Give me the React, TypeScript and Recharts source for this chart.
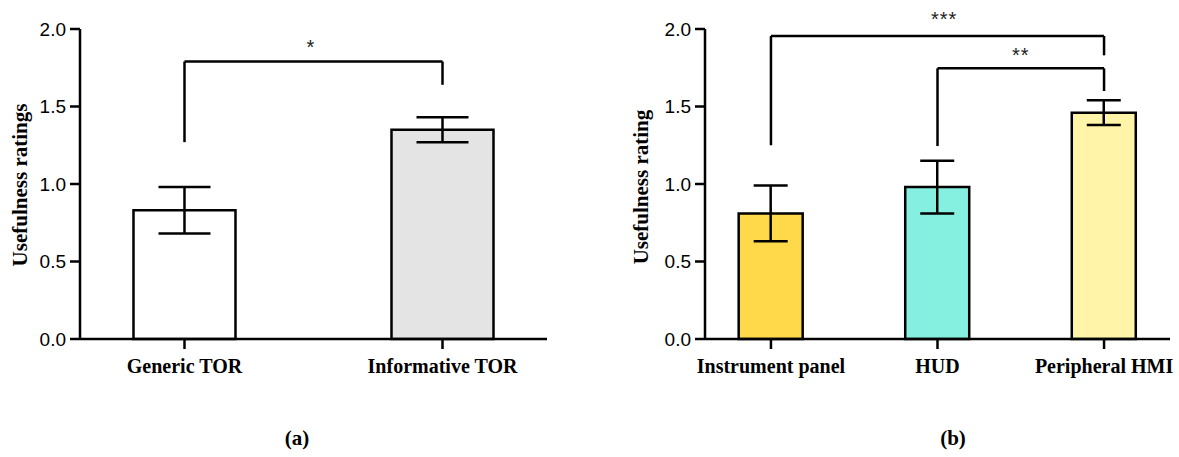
import React from 'react';
import {
  BarChart,
  Bar,
  XAxis,
  YAxis,
  Cell,
  ErrorBar,
  ReferenceLine,
  ReferenceDot,
} from 'recharts';

// ---------- data ----------
const leftCategories = ['Generic TOR', 'Informative TOR'];
const leftMeans = [0.83, 1.35];
const leftErrors = [0.15, 0.08];
const leftColors = ['#FFFFFF', '#E4E4E4'];

const rightCategories = ['Instrument panel', 'HUD', 'Peripheral HMI'];
const rightMeans = [0.81, 0.98, 1.46];
const rightErrors = [0.18, 0.17, 0.08];
const rightColors = ['#FFD94A', '#85F0E0', '#FFF4A8'];

const yTicks = [0, 0.5, 1, 1.5, 2];

// significance brackets: [fromIndex, toIndex, fromBottom, toBottom, top]
const leftBrackets = [[0, 1, 1.27, 1.64, 1.79]];
const leftStars = [{ x: 0.49, y: 1.884, text: '*' }];
const rightBrackets = [
  [0, 2, 1.25, 1.83, 1.955],
  [1, 2, 1.245, 1.6, 1.746],
];
const rightStars = [
  { x: 1.04, y: 2.065, text: '***' },
  { x: 1.5, y: 1.834, text: '**' },
];

const leftData = leftCategories.map((c, i) => ({ idx: i, name: c, value: leftMeans[i], err: leftErrors[i] }));
const rightData = rightCategories.map((c, i) => ({ idx: i, name: c, value: rightMeans[i], err: rightErrors[i] }));

const SW = 2.5;
const serifBold = { fontFamily: 'Liberation Serif', fontWeight: 'bold' as const };

function Panel(props: {
  data: any[];
  categories: string[];
  colors: string[];
  domain: [number, number];
  barSize: number;
  capWidth: number;
  brackets: number[][];
  stars: { x: number; y: number; text: string }[];
  yLabel: string;
  yLabelX: number;
  yLabelY: number;
  width: number;
  margin: any;
}) {
  const { data, categories, colors, domain, barSize, capWidth, brackets, stars, yLabel, yLabelX, yLabelY, width, margin } = props;
  return (
    <BarChart width={width} height={400} data={data} margin={margin}>
      <XAxis
        dataKey="idx"
        type="number"
        domain={domain}
        ticks={categories.map((_, i) => i)}
        interval={0}
        tickFormatter={(v: number) => categories[v] ?? ''}
        height={40}
        axisLine={{ stroke: '#000', strokeWidth: SW }}
        tickLine={{ stroke: '#000', strokeWidth: SW }}
        tickSize={10}
        tickMargin={10}
        tick={{ fill: '#000', fontSize: 20, ...serifBold }}
      />
      <YAxis
        type="number"
        domain={[0, 2]}
        ticks={yTicks}
        tickFormatter={(v: number) => v.toFixed(1)}
        width={60}
        axisLine={{ stroke: '#000', strokeWidth: SW }}
        tickLine={{ stroke: '#000', strokeWidth: SW }}
        tickSize={10}
        tickMargin={4}
        tick={{ fill: '#000', fontSize: 19, fontFamily: 'Liberation Sans' }}
        label={{
          content: () => (
            <text
              x={yLabelX}
              y={yLabelY}
              transform={`rotate(-90 ${yLabelX} ${yLabelY})`}
              textAnchor="middle"
              fill="#000"
              fontSize={21}
              fontFamily="Liberation Serif"
              fontWeight="bold"
            >
              {yLabel}
            </text>
          ),
        }}
      />
      <Bar dataKey="value" barSize={barSize} stroke="#000" strokeWidth={SW} isAnimationActive={false}>
        {data.map((_, i) => (
          <Cell key={i} fill={colors[i]} />
        ))}
        <ErrorBar dataKey="err" width={capWidth} stroke="#000" strokeWidth={SW} direction="y" />
      </Bar>
      {brackets.map((b, i) => [
        <ReferenceLine key={`a${i}`} segment={[{ x: b[0], y: b[2] }, { x: b[0], y: b[4] }]} stroke="#000" strokeWidth={SW} />,
        <ReferenceLine key={`b${i}`} segment={[{ x: b[0], y: b[4] }, { x: b[1], y: b[4] }]} stroke="#000" strokeWidth={SW} />,
        <ReferenceLine key={`c${i}`} segment={[{ x: b[1], y: b[4] }, { x: b[1], y: b[3] }]} stroke="#000" strokeWidth={SW} />,
      ])}
      {stars.map((s, i) => (
        <ReferenceDot
          key={`s${i}`}
          x={s.x}
          y={s.y}
          r={0}
          ifOverflow="visible"
          fill="none"
          stroke="none"
          label={{ value: s.text, position: 'center', fill: '#222', fontSize: 20, fontFamily: 'Liberation Sans', letterSpacing: 1 }}
        />
      ))}
    </BarChart>
  );
}

export default function App() {
  return (
    <div style={{ position: 'absolute', left: 0, top: 0, width: 1179, height: 457, background: '#fff', overflow: 'hidden' }}>
      <div style={{ position: 'absolute', left: 0, top: 0 }}>
        <Panel
          data={leftData}
          categories={leftCategories}
          colors={leftColors}
          domain={[-0.405, 1.405]}
          barSize={102}
          capWidth={26}
          brackets={leftBrackets}
          stars={leftStars}
          yLabel="Usefulness ratings"
          yLabelX={27}
          yLabelY={185}
          width={560}
          margin={{ top: 29, right: 13, bottom: 21, left: 20 }}
        />
      </div>
      <div style={{ position: 'absolute', left: 600, top: 0 }}>
        <Panel
          data={rightData}
          categories={rightCategories}
          colors={rightColors}
          domain={[-0.396, 2.396]}
          barSize={64}
          capWidth={17}
          brackets={rightBrackets}
          stars={rightStars}
          yLabel="Usefulness rating"
          yLabelX={48}
          yLabelY={187}
          width={579}
          margin={{ top: 29, right: 9, bottom: 21, left: 45 }}
        />
      </div>
      <svg width={1179} height={457} style={{ position: 'absolute', left: 0, top: 0, pointerEvents: 'none' }}>
        <text x={297} y={445} textAnchor="middle" fontSize={21} fill="#000" {...serifBold}>(a)</text>
        <text x={953} y={445} textAnchor="middle" fontSize={21} fill="#000" {...serifBold}>(b)</text>
      </svg>
    </div>
  );
}
